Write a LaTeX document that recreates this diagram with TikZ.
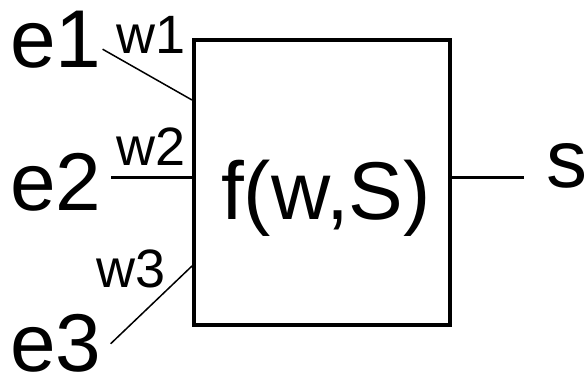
\documentclass[tikz,border=0pt]{standalone}
\usepackage{fontspec}
\setmainfont{Liberation Sans}
\usetikzlibrary{positioning}

\begin{document}
\begin{tikzpicture}[x=1pt,y=-1pt,
  big/.style={font=\fontsize{82}{82}\selectfont,inner sep=0pt,anchor=base west},
  small/.style={font=\fontsize{54}{54}\selectfont,inner sep=0pt,anchor=base west},
  wire/.style={line width=1.5pt},
  thickwire/.style={line width=3pt}]
\useasboundingbox (0,0) rectangle (588,375);
% the block
\node[draw,line width=4pt,minimum width=256pt,minimum height=285pt,inner sep=0pt] (box) at (322,182.5) {};
\node[big] (f) at (221,219) {f(w,S)};
% inputs and output
\node[big] (e1) at (10,67) {e1};
\node[big] (e2) at (10,210) {e2};
\node[big] (e3) at (10,371) {e3};
\node[big] (s) at (546,187) {s};
% weights
\node[small] (w1) at (116,53) {w1};
\node[small] (w2) at (116,165) {w2};
\node[small] (w3) at (96,287) {w3};
\coordinate (in1) at ([yshift=-62pt]box.north west);
\coordinate (in2) at ([yshift=5.5pt]box.west);
\coordinate (in3) at ([yshift=61pt]box.south west);
\coordinate (out) at ([yshift=5.5pt]box.east);
\draw[wire] ([xshift=1pt,yshift=-10pt]e1.east) -- (in1);
\draw[thickwire,shorten >=9pt] (in2) -- (in2 -| e2.east);
\draw[wire] ([xshift=9pt,yshift=-1pt]e3.east) -- (in3);
\draw[thickwire,shorten >=22pt] (out) -- (out -| s.west);
\end{tikzpicture}
\end{document}
